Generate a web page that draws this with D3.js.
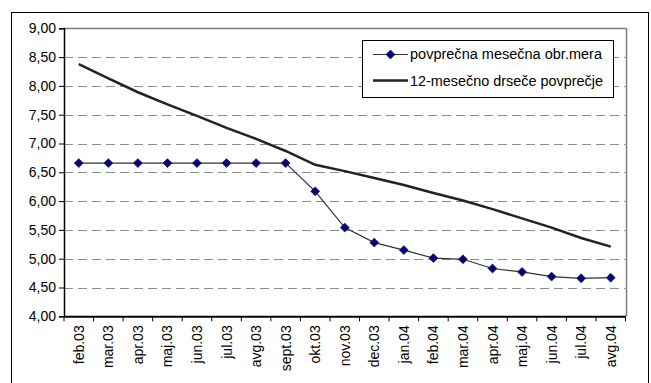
<!DOCTYPE html>
<html><head><meta charset="utf-8">
<script src="https://cdn.jsdelivr.net/npm/d3@7"></script>
<style>body{margin:0;background:#fff}svg{display:block;font-family:"Liberation Sans",Arial,sans-serif}</style>
</head><body>
<svg id="c" width="651" height="383"></svg>
<script>
const categories = ["feb.03","mar.03","apr.03","maj.03","jun.03","jul.03","avg.03","sept.03","okt.03","nov.03","dec.03","jan.04","feb.04","mar.04","apr.04","maj.04","jun.04","jul.04","avg.04"];
const monthlyRate = [6.66,6.66,6.66,6.66,6.66,6.66,6.66,6.66,6.17,5.54,5.28,5.15,5.01,4.99,4.83,4.77,4.69,4.66,4.67];
const movingAvg = [8.38,8.13,7.89,7.68,7.48,7.27,7.08,6.87,6.63,6.52,6.40,6.28,6.14,6.01,5.86,5.70,5.54,5.36,5.21];
const yTicks = [4,4.5,5,5.5,6,6.5,7,7.5,8,8.5,9];
const seriesNames = ["povprečna mesečna obr.mera","12-mesečno drseče povprečje"];

const svg = d3.select("#c");
const L=64, R=625.5, T=28.3, B=316.3;
const FS = 14;
svg.append("rect").attr("x",11.5).attr("y",12.5).attr("width",637).attr("height",380).attr("fill","#fff").attr("stroke","#000").attr("stroke-width",1);

const x = d3.scaleBand().domain(categories).range([L,R]);
const y = d3.scaleLinear().domain([4,9]).range([B,T]);
const fmt = v => v.toFixed(2).replace(".",",");

// grid
svg.append("g").selectAll("line").data(yTicks.filter(v=>v>4&&v<9)).join("line")
  .attr("x1",L).attr("x2",R).attr("y1",d=>Math.round(y(d))+0.5).attr("y2",d=>Math.round(y(d))+0.5)
  .attr("stroke","#8c8c8c").attr("stroke-dasharray","9,5").attr("stroke-width",1);
// plot border top/right
svg.append("path").attr("d",`M${L},${Math.round(T)+0.5}H${Math.round(R)+0.5}V${B}`).attr("fill","none").attr("stroke","#808080").attr("stroke-width",1.5);

// y axis
const ya = svg.append("g").attr("transform",`translate(${L},0)`)
  .call(d3.axisLeft(y).tickValues(yTicks).tickFormat(fmt).tickSize(5).tickPadding(3));
ya.select(".domain").attr("stroke","#000").attr("stroke-width",1.5);
ya.selectAll(".tick line").attr("stroke","#000");
ya.selectAll("text").attr("font-size",FS).attr("fill","#000").attr("font-family","Liberation Sans, Arial, sans-serif");

// x axis
const xa = svg.append("g").attr("transform",`translate(0,${B})`)
  .call(d3.axisBottom(x).tickSize(0).tickPadding(0));
xa.select(".domain").attr("stroke","#000").attr("stroke-width",2);
xa.selectAll(".tick text").attr("font-size",FS).attr("fill","#000").attr("font-family","Liberation Sans, Arial, sans-serif")
  .attr("text-anchor","end").attr("dy",null).attr("y",0)
  .attr("transform","translate(5,9) rotate(-90)");
// boundary ticks
svg.append("g").selectAll("line").data(d3.range(categories.length+1)).join("line")
  .attr("x1",i=>L+i*x.step()).attr("x2",i=>L+i*x.step()).attr("y1",B).attr("y2",B+5)
  .attr("stroke","#000").attr("stroke-width",1);

const cx = d => x(d)+x.bandwidth()/2;
// moving average line
svg.append("path").datum(movingAvg)
  .attr("d",d3.line().x((d,i)=>cx(categories[i])).y(d=>y(d)))
  .attr("fill","none").attr("stroke","#222").attr("stroke-width",2.5);
// monthly line
svg.append("path").datum(monthlyRate)
  .attr("d",d3.line().x((d,i)=>cx(categories[i])).y(d=>y(d)))
  .attr("fill","none").attr("stroke","#333").attr("stroke-width",1.2);
const diamond = d3.symbol().type(d3.symbolDiamond2).size(50);
svg.append("g").selectAll("path").data(monthlyRate).join("path")
  .attr("d",diamond)
  .attr("transform",(d,i)=>`translate(${cx(categories[i])},${y(d)})`)
  .attr("fill","#000080").attr("stroke","#1a1a3a").attr("stroke-width",0.8);

// legend
const lg = svg.append("g");
lg.append("rect").attr("x",362.5).attr("y",40.5).attr("width",251).attr("height",57).attr("fill","#fff").attr("stroke","#000").attr("stroke-width",1);
lg.append("line").attr("x1",373).attr("x2",408).attr("y1",54.5).attr("y2",54.5).attr("stroke","#333").attr("stroke-width",1.2);
lg.append("path").attr("d",diamond).attr("transform","translate(390.5,54.5)").attr("fill","#000080").attr("stroke","#1a1a3a").attr("stroke-width",0.8);
lg.append("line").attr("x1",373).attr("x2",408).attr("y1",80.5).attr("y2",80.5).attr("stroke","#222").attr("stroke-width",2.5);
lg.selectAll("text").data(seriesNames).join("text")
  .attr("x",410).attr("y",(d,i)=>54.5+i*26.3).attr("dy","0.35em")
  .attr("font-size",FS).attr("fill","#000")
  .attr("textLength",(d,i)=>i===0?192:193).attr("lengthAdjust","spacingAndGlyphs")
  .text(d=>d);
</script>
</body></html>
